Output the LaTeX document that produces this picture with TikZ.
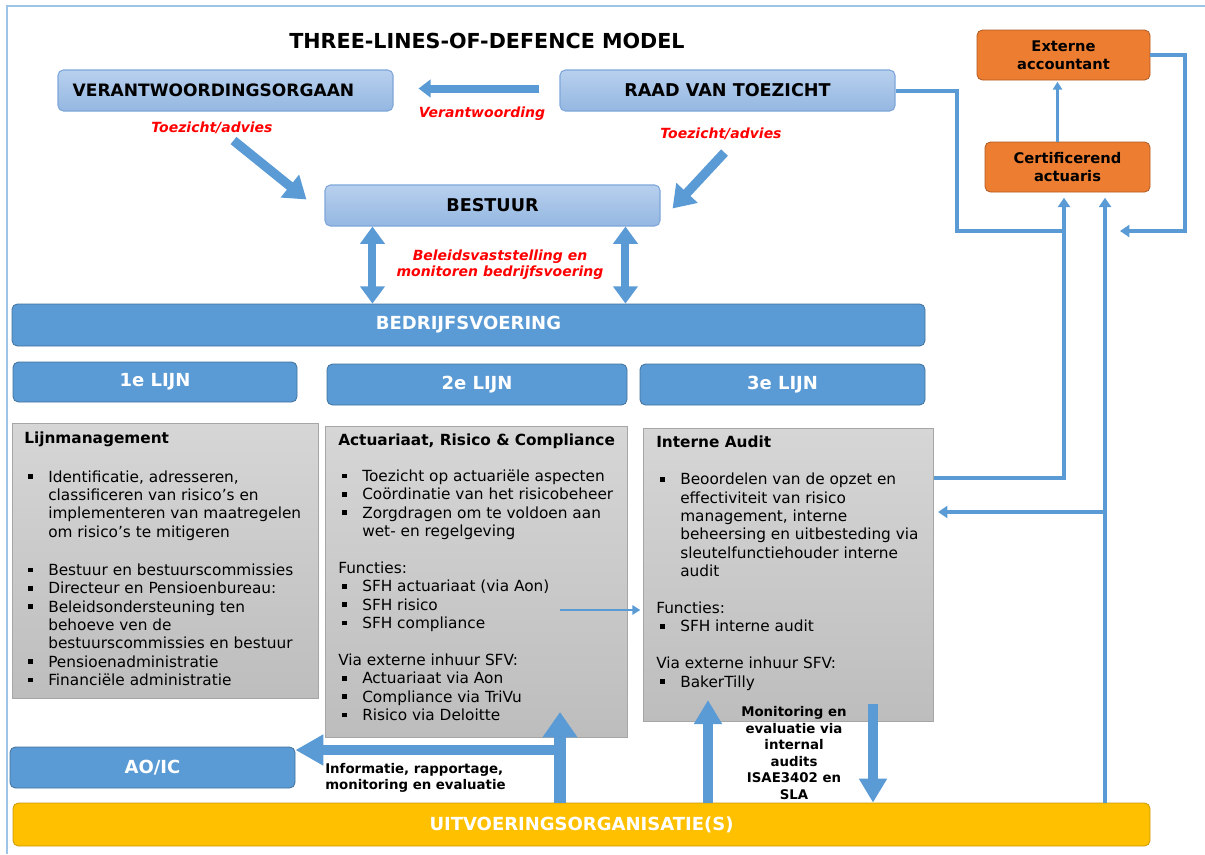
\documentclass[tikz,border=0pt]{standalone}
\usepackage{fontspec}
\setmainfont{DejaVu Sans}
\usetikzlibrary{arrows.meta,calc}

\definecolor{accblue}{HTML}{5B9BD5}
\definecolor{accline}{HTML}{41719C}
\definecolor{lighttop}{HTML}{B8D0EE}
\definecolor{lightbot}{HTML}{94B7E1}
\definecolor{lightline}{HTML}{7EA6D9}
\definecolor{greytop}{HTML}{D6D6D6}
\definecolor{greybot}{HTML}{BDBDBD}
\definecolor{greyline}{HTML}{A6A6A6}
\definecolor{orangefill}{HTML}{ED7D31}
\definecolor{orangeline}{HTML}{AE5A21}
\definecolor{goldfill}{HTML}{FFC000}
\definecolor{goldline}{HTML}{C99A06}
\definecolor{framecol}{HTML}{9DC3E6}
\definecolor{redlabel}{HTML}{FF0000}

\newcommand{\blt}{\hspace*{3pt}\makebox[15pt][l]{\rule[2.5pt]{3.5pt}{3.5pt}}}
\newcommand{\cnt}{\hspace*{18pt}}

\begin{document}
\begin{tikzpicture}[x=0.75pt,y=0.75pt,yscale=-1,xscale=1,
  hdrbox/.style={draw=lightline,line width=0.8pt,rounded corners=4pt,top color=lighttop,bottom color=lightbot,
    font=\fontsize{13.2}{15}\selectfont\bfseries,minimum width=251.25pt,minimum height=30.75pt,inner sep=0pt},
  barbox/.style={draw=accline,line width=0.6pt,rounded corners=4pt,fill=accblue,text=white,
    font=\fontsize{13.5}{15}\selectfont\bfseries,inner sep=0pt},
  orabox/.style={draw=orangeline,line width=0.6pt,rounded corners=4pt,fill=orangefill,
    font=\fontsize{11}{13.5}\selectfont\bfseries,align=center,inner sep=0pt},
  greybox/.style={draw=greyline,line width=0.8pt,top color=greytop,bottom color=greybot,anchor=north west,inner sep=0pt},
  boxtext/.style={anchor=north west,inner sep=0pt,align=left,font=\fontsize{11.5}{13.75}\selectfont},
  redlbl/.style={text=redlabel,font=\fontsize{10.5}{12}\selectfont\bfseries\itshape,inner sep=0pt},
  blacklbl/.style={font=\fontsize{10}{12.4}\selectfont\bfseries,inner sep=0pt},
  conn/.style={draw=accblue,line width=3pt},
  connarr/.style={conn,-{Triangle[length=7pt,width=9pt]}},
  thinarr/.style={draw=accblue,line width=2pt,-{Triangle[length=6pt,width=7pt]}},
  fatarr/.style={draw=accblue,line width=6pt,-{Triangle[length=9pt,width=13pt]}},
  diagarr/.style={draw=accblue,line width=7pt,-{Triangle[length=16pt,width=21pt]}},
  dblarr/.style={draw=accblue,line width=6pt,{Triangle[length=13pt,width=18pt]}-{Triangle[length=13pt,width=18pt]}},
  uparr/.style={draw=accblue,line width=9pt,-{Triangle[length=19pt,width=25pt]}},
  sidearr/.style={draw=accblue,line width=7pt,-{Triangle[length=21pt,width=22pt]}},
  smallup/.style={draw=accblue,line width=7pt,-{Triangle[length=18pt,width=20pt]}}
]
\useasboundingbox (0,0) rectangle (1205,854);

% frame
\draw[framecol,line width=1.5pt] (7,854) -- (7,6) -- (1205,6);

% Title
\node[font=\fontsize{15.5}{18}\selectfont\bfseries] (title) at (487,41) {THREE-LINES-OF-DEFENCE MODEL};

% top boxes
\node[hdrbox,text width=229.25pt,inner xsep=11pt,align=left,font=\fontsize{12.8}{15}\selectfont\bfseries] (verant) at (225.5,90.5) {VERANTWOORDINGSORGAAN};
\node[hdrbox] (raad) at (727.5,90.5) {RAAD VAN TOEZICHT};
\node[hdrbox] (bestuur) at (492.5,205.5) {BESTUUR};

% external boxes
\node[orabox,minimum width=129.75pt,minimum height=37.5pt] (ext) at (1063.5,55) {Externe\\accountant};
\node[orabox,minimum width=123.75pt,minimum height=37.5pt] (cert) at (1067.5,167) {Certificerend\\actuaris};

% bars
\node[barbox,minimum width=684.75pt,minimum height=31.5pt] (bedrijf) at (468.5,325) {BEDRIJFSVOERING};
\node[barbox,minimum width=213pt,minimum height=30pt] (lijn1) at (155,382) {1e LIJN};
\node[barbox,minimum width=225pt,minimum height=30.75pt] (lijn2) at (477,384.5) {2e LIJN};
\node[barbox,minimum width=213.75pt,minimum height=30.75pt] (lijn3) at (782.5,384.5) {3e LIJN};
\node[barbox,minimum width=213.75pt,minimum height=30.75pt] (aoic) at (152.5,767.5) {AO/IC};
\node[barbox,draw=goldline,fill=goldfill,minimum width=852.75pt,minimum height=32.25pt] (uitv) at (581.5,824.5) {UITVOERINGSORGANISATIE(S)};

% grey boxes
\node[greybox,minimum width=229.5pt,minimum height=206.25pt] (g1) at (12,423) {};
\node[greybox,minimum width=226.5pt,minimum height=233.25pt] (g2) at (325,426) {};
\node[greybox,minimum width=217.5pt,minimum height=219.75pt] (g3) at (643,428) {};

\node[boxtext] (t1) at ($(g1.north west)+(12,9)$) {\textbf{Lijnmanagement}\\[15pt]
\blt Identificatie, adresseren,\\
\cnt classificeren van risico’s en\\
\cnt implementeren van maatregelen\\
\cnt om risico’s te mitigeren\\[15pt]
\blt Bestuur en bestuurscommissies\\
\blt Directeur en Pensioenbureau:\\
\blt Beleidsondersteuning ten\\
\cnt behoeve ven de\\
\cnt bestuurscommissies en bestuur\\
\blt Pensioenadministratie\\
\blt Financiële administratie};

\node[boxtext] (t2) at ($(g2.north west)+(13,8)$) {\textbf{Actuariaat, Risico \& Compliance}\\[13pt]
\blt Toezicht op actuariële aspecten\\
\blt Coördinatie van het risicobeheer\\
\blt Zorgdragen om te voldoen aan\\
\cnt wet- en regelgeving\\[14pt]
Functies:\\
\blt SFH actuariaat (via Aon)\\
\blt SFH risico\\
\blt SFH compliance\\[14pt]
Via externe inhuur SFV:\\
\blt Actuariaat via Aon\\
\blt Compliance via TriVu\\
\blt Risico via Deloitte};

\node[boxtext] (t3) at ($(g3.north west)+(13,8)$) {\textbf{Interne Audit}\\[14pt]
\blt Beoordelen van de opzet en\\
\cnt effectiviteit van risico\\
\cnt management, interne\\
\cnt beheersing en uitbesteding via\\
\cnt sleutelfunctiehouder interne\\
\cnt audit\\[14pt]
Functies:\\
\blt SFH interne audit\\[14pt]
Via externe inhuur SFV:\\
\blt BakerTilly};

% red labels
\node[redlbl] (vw) at (482,114) {Verantwoording};
\node[redlbl] (tz1) at (212,128) {Toezicht/advies};
\node[redlbl] (tz2) at (721,134) {Toezicht/advies};
\node[redlbl,align=center] (bv) at (500,265) {Beleidsvaststelling en\\monitoren bedrijfsvoering};

% top arrows
\draw[fatarr] ($(raad.west)+(-20,-2)$) -- ($(verant.east)+(25,-2)$);
\draw[diagarr] ($(verant.south)+(8,29)$) -- ($(bestuur.north west)+(-18,15)$);
\draw[diagarr] ($(raad.south)+(-3,41)$) -- ($(bestuur.north east)+(12,24)$);

\coordinate (dA) at ($(bestuur.south west)+(48,0)$);
\coordinate (dB) at ($(bestuur.south west)+(301,0)$);
\draw[dblarr] (dA) -- (dA |- bedrijf.north);
\draw[dblarr] (dB) -- (dB |- bedrijf.north);

% second to third line
\coordinate (tA) at (560,610);
\draw[thinarr,shorten >=2pt] (tA) -- (tA -| g3.west);

% right hand connectors
\coordinate (vA) at (1064,231);
\coordinate (vB) at (1105,512);
\draw[conn] (raad.east) -| ($(vA)+(-107,0)$) -- (vA);
\draw[connarr,shorten >=4pt] ($(g3.north east)+(0,50)$) -| (cert.south -| vA);
\draw[connarr,shorten >=4pt] (uitv.north -| vB) -- (cert.south -| vB);
\draw[connarr,shorten >=3pt] (vB) -- (vB -| g3.east);
\draw[connarr] (ext.east) -| ($(vA)+(121,0)$) -- ($(vA)+(56,0)$);
\coordinate (cA) at ($(cert.north)+(-10,0)$);
\draw[thinarr,shorten >=1pt] (cA) -- (cA |- ext.south);

% bottom arrows
\coordinate (bA) at (560,712);
\coordinate (hA) at (566,750);
\draw[sidearr] (hA) -- (hA -| aoic.east);
\draw[uparr] (uitv.north -| bA) -- (bA);
\coordinate (bB) at (708,700);
\draw[smallup] (uitv.north -| bB) -- (bB);
\coordinate (bC) at (873,704);
\draw[smallup] (bC) -- (bC |- uitv.north);

% bottom texts
\node[blacklbl,align=left,anchor=west] (info) at (325,778) {Informatie, rapportage,\\monitoring en evaluatie};
\node[blacklbl,align=center] (mon) at (794,753) {Monitoring en\\evaluatie via\\internal\\audits\\ISAE3402 en\\SLA};

\end{tikzpicture}
\end{document}
